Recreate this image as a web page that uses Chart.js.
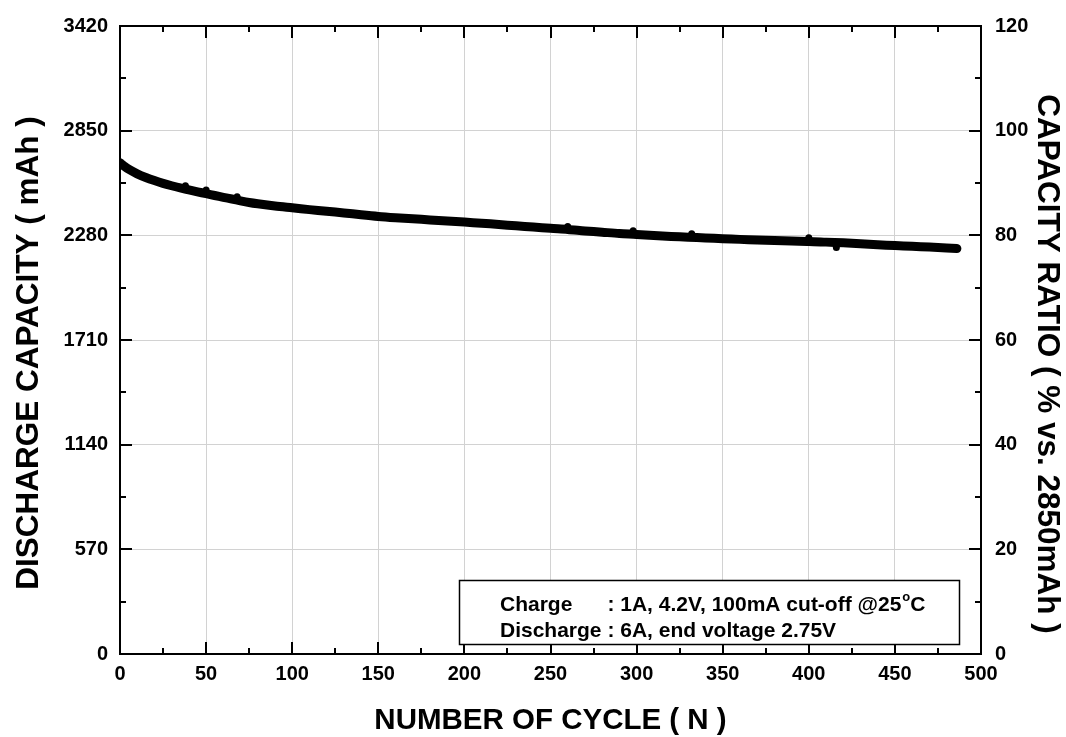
<!DOCTYPE html>
<html><head><meta charset="utf-8">
<script src="https://cdn.jsdelivr.net/npm/chart.js@4.4.1/dist/chart.umd.min.js"></script>
<style>html,body{margin:0;padding:0;background:#fff}canvas{display:block}</style>
</head><body>
<canvas id="c" width="1066" height="737"></canvas>
<script>
// ---- data ----
const cycles = [0,2,5,10,15,20,25,30,35,40,45,50,55,60,65,70,75,80,90,100,110,120,130,140,150,160,170,180,190,200,210,220,230,240,250,260,270,280,290,300,310,320,330,340,350,360,370,380,390,400,410,420,430,440,450,460,470,480,486];
const capacity = [2675,2660,2640,2615,2595,2578,2563,2550,2538,2528,2517,2507,2497,2487,2478,2468,2459,2452,2440,2430,2420,2411,2402,2392,2383,2376,2370,2364,2358,2352,2346,2339,2332,2325,2318,2312,2304,2297,2290,2285,2279,2274,2270,2266,2262,2258,2255,2252,2249,2247,2243,2239,2234,2229,2224,2220,2216,2211,2208];
const outlierCycles = [38,50,68,260,298,332,400,416];
const outlierCapacity = [2550,2527,2490,2328,2305,2288,2267,2214];
const xTicks = [0,50,100,150,200,250,300,350,400,450,500];
const xMinor = [25,75,125,175,225,275,325,375,425,475];
const leftTicks = [0,570,1140,1710,2280,2850,3420];
const leftMinor = [285,855,1425,1995,2565,3135];
const rightTicks = [0,20,40,60,80,100,120];
const rightMinor = [10,30,50,70,90,110];
const xTitle = 'NUMBER OF CYCLE ( N )';
const leftTitle = 'DISCHARGE CAPACITY ( mAh )';
const rightTitle = 'CAPACITY RATIO ( % vs. 2850mAh )';
const noteLabel1 = 'Charge';
const noteText1 = ': 1A, 4.2V, 100mA cut-off @25';
const noteDegree = 'o';
const noteUnit = 'C';
const noteLine2 = 'Discharge : 6A, end voltage 2.75V';

const FONT = "'Liberation Sans', Arial, Helvetica, sans-serif";
Chart.defaults.font.family = FONT;
Chart.defaults.font.weight = 'bold';
Chart.defaults.color = '#000';

const points = cycles.map((c, i) => ({x: c, y: capacity[i]}));
const outliers = outlierCycles.map((c, i) => ({x: c, y: outlierCapacity[i]}));

const decor = {
  id: 'decor',
  afterDraw(chart) {
    const ctx = chart.ctx;
    const a = chart.chartArea;
    const xs = chart.scales.x, yl = chart.scales.y, yr = chart.scales.y2;
    ctx.save();
    ctx.strokeStyle = '#000';
    ctx.lineWidth = 2;
    ctx.beginPath();
    ctx.moveTo(a.left - 1, a.top); ctx.lineTo(a.right + 1, a.top);
    ctx.moveTo(a.left - 1, a.bottom); ctx.lineTo(a.right + 1, a.bottom);
    ctx.moveTo(a.left, a.top); ctx.lineTo(a.left, a.bottom);
    ctx.moveTo(a.right, a.top); ctx.lineTo(a.right, a.bottom);
    ctx.stroke();
    const MAJ = 12, MIN = 6;
    ctx.beginPath();
    const vx = (v, len) => { const p = Math.round(xs.getPixelForValue(v)); ctx.moveTo(p, a.bottom); ctx.lineTo(p, a.bottom - len); ctx.moveTo(p, a.top); ctx.lineTo(p, a.top + len); };
    xTicks.forEach(v => vx(v, MAJ)); xMinor.forEach(v => vx(v, MIN));
    const hl = (v, len) => { const p = Math.round(yl.getPixelForValue(v)); ctx.moveTo(a.left, p); ctx.lineTo(a.left + len, p); };
    leftTicks.forEach(v => hl(v, MAJ)); leftMinor.forEach(v => hl(v, MIN));
    const hr = (v, len) => { const p = Math.round(yr.getPixelForValue(v)); ctx.moveTo(a.right, p); ctx.lineTo(a.right - len, p); };
    rightTicks.forEach(v => hr(v, MAJ)); rightMinor.forEach(v => hr(v, MIN));
    ctx.stroke();

    // note box
    const bx0 = Math.round(xs.getPixelForValue(196.8)) + 0.5, bx1 = Math.round(xs.getPixelForValue(487.3)) + 0.5;
    const by0 = 580.5, by1 = 644.5;
    ctx.fillStyle = '#fff';
    ctx.fillRect(bx0, by0, bx1 - bx0, by1 - by0);
    ctx.lineWidth = 1.5;
    ctx.strokeRect(bx0, by0, bx1 - bx0, by1 - by0);
    ctx.fillStyle = '#000';
    ctx.font = 'bold 21px ' + FONT;
    ctx.textBaseline = 'alphabetic';
    ctx.textAlign = 'left';
    const tx = 500;
    ctx.fillText(noteLabel1, tx, 611);
    const colonX = tx + ctx.measureText('Discharge ').width;
    ctx.fillText(noteText1, colonX, 611);
    const w = ctx.measureText(noteText1).width;
    ctx.font = 'bold 13px ' + FONT;
    ctx.fillText(noteDegree, colonX + w + 1, 601);
    const dw = ctx.measureText(noteDegree).width;
    ctx.font = 'bold 21px ' + FONT;
    ctx.fillText(noteUnit, colonX + w + dw + 1, 611);
    ctx.fillText(noteLine2, tx, 637);

    // side titles
    ctx.font = 'bold 31.5px ' + FONT;
    ctx.textAlign = 'center';
    ctx.textBaseline = 'middle';
    ctx.save();
    ctx.translate(29, 353);
    ctx.rotate(-Math.PI / 2);
    ctx.fillText(leftTitle, 0, 0);
    ctx.restore();
    ctx.save();
    ctx.translate(1047, 364);
    ctx.rotate(Math.PI / 2);
    ctx.fillText(rightTitle, 0, 0);
    ctx.restore();
    ctx.restore();
  }
};

const plain = v => String(v);

new Chart(document.getElementById('c'), {
  type: 'line',
  data: {
    datasets: [{
      data: points,
      borderColor: '#000',
      backgroundColor: '#000',
      borderWidth: 9,
      pointRadius: 0,
      tension: 0.3,
      borderCapStyle: 'round',
      borderJoinStyle: 'round',
      yAxisID: 'y'
    }, {
      data: outliers,
      showLine: false,
      borderColor: '#000',
      backgroundColor: '#000',
      pointRadius: 3.5,
      pointBorderWidth: 0,
      yAxisID: 'y'
    }]
  },
  options: {
    responsive: false,
    animation: false,
    events: [],
    layout: {padding: {top: 22, left: 0, right: 0, bottom: 0}},
    plugins: {legend: {display: false}, tooltip: {enabled: false}},
    scales: {
      x: {
        type: 'linear', min: 0, max: 500,
        afterBuildTicks: s => { s.ticks = xTicks.map(v => ({value: v})); },
        afterFit: s => { s.height = 83; },
        grid: {color: '#d2d2d2', lineWidth: 1, drawTicks: false},
        border: {display: false},
        ticks: {padding: 8, callback: plain, font: {size: 20, weight: 'bold'}, color: '#000', maxRotation: 0, autoSkip: false},
        title: {display: true, text: xTitle, font: {size: 29.5, weight: 'bold', lineHeight: 1}, color: '#000', padding: {top: 0, bottom: 1}}
      },
      y: {
        type: 'linear', position: 'left', min: 0, max: 3420,
        afterBuildTicks: s => { s.ticks = leftTicks.map(v => ({value: v})); },
        afterFit: s => { s.width = 120; },
        grid: {color: '#d2d2d2', lineWidth: 1, drawTicks: false},
        border: {display: false},
        ticks: {padding: 12, callback: plain, font: {size: 20, weight: 'bold'}, color: '#000', autoSkip: false}
      },
      y2: {
        type: 'linear', position: 'right', min: 0, max: 120,
        afterBuildTicks: s => { s.ticks = rightTicks.map(v => ({value: v})); },
        afterFit: s => { s.width = 85; },
        grid: {display: false, drawTicks: false},
        border: {display: false},
        ticks: {padding: 14, callback: plain, font: {size: 20, weight: 'bold'}, color: '#000', autoSkip: false}
      }
    }
  },
  plugins: [decor]
});
</script>
</body></html>
